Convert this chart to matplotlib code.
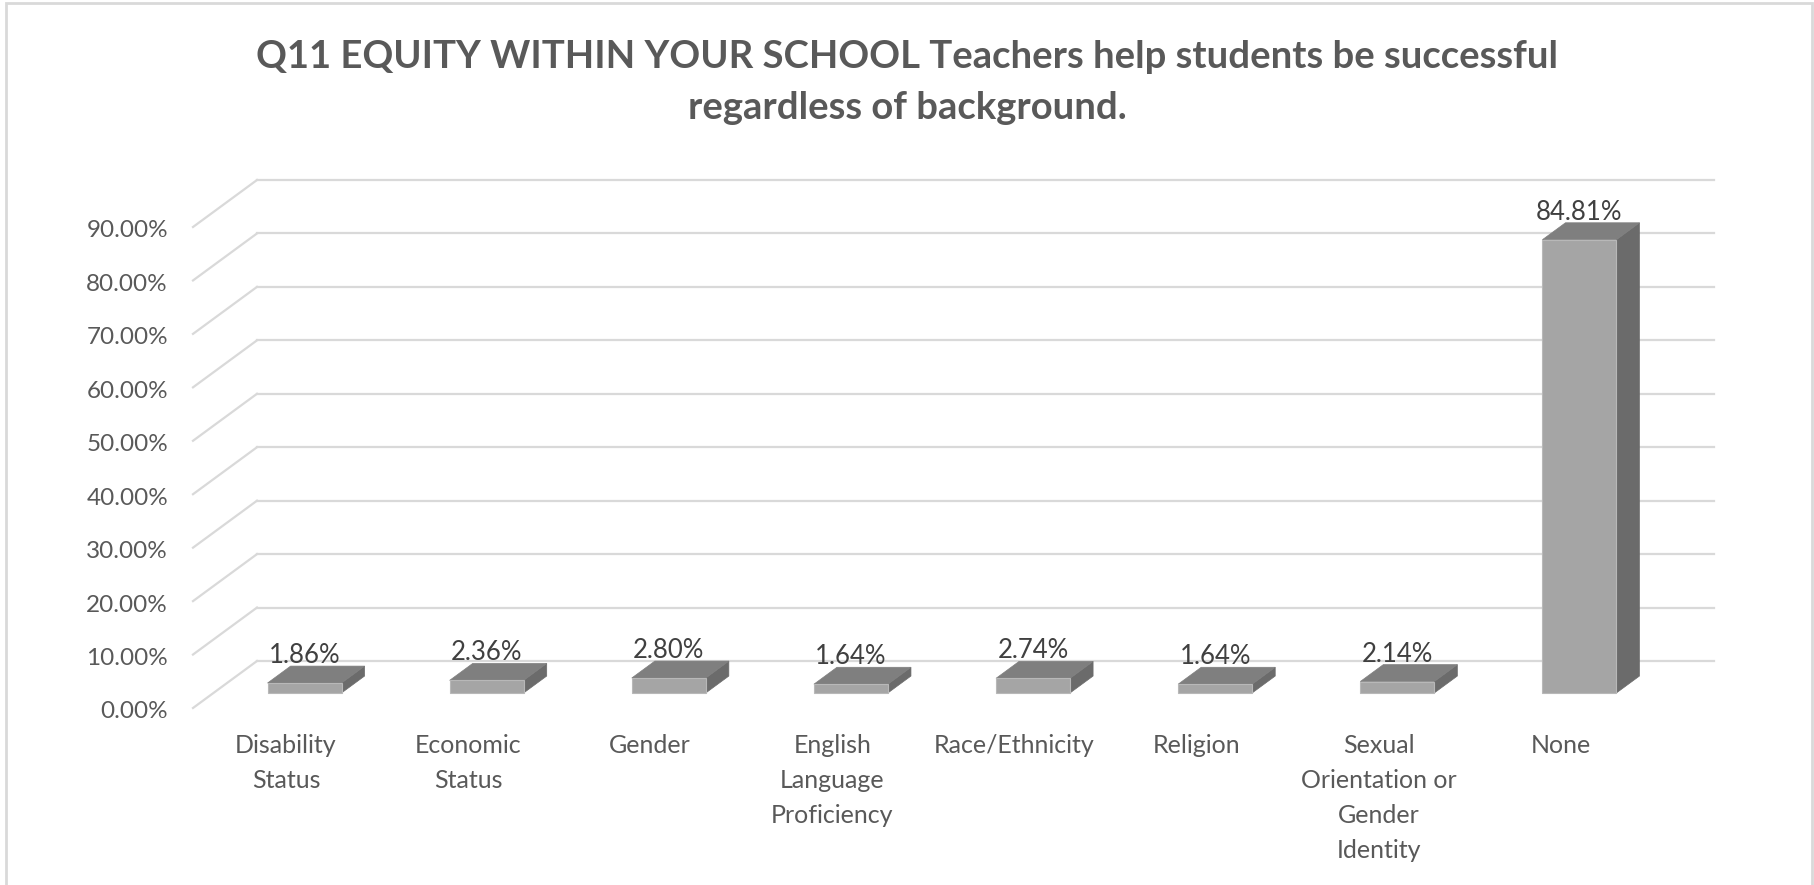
import matplotlib.pyplot as plt
from matplotlib.patches import Polygon, Rectangle

# survey results, percent of responses
categories = ["Disability\nStatus", "Economic\nStatus", "Gender",
              "English\nLanguage\nProficiency", "Race/Ethnicity", "Religion",
              "Sexual\nOrientation or\nGender\nIdentity", "None"]
values = [1.86, 2.36, 2.80, 1.64, 2.74, 1.64, 2.14, 84.81]
yticks = [0, 10, 20, 30, 40, 50, 60, 70, 80, 90]
title_lines = ["Q11 EQUITY WITHIN YOUR SCHOOL Teachers help students be successful",
               "regardless of background."]

plt.rcParams['font.family'] = ['Lato', 'DejaVu Sans']

W, H = 1815, 885
fig = plt.figure(figsize=(W / 100, H / 100), dpi=100)

# back wall of the 3-D plot, pixel positions
left, right, top, floor = 257, 1714, 180, 661
ax = fig.add_axes([left / W, (H - floor) / H, (right - left) / W, (floor - top) / H])
ax.set_xlim(-0.5, len(values) - 0.5)
ax.set_ylim(0, 90)
ax.axis('off')

# oblique depth: the full floor depth moves 64 px left and 47 px down
px_x = (right - left) / len(values)
px_y = (floor - top) / 90
DX = -64 / px_x
DY = -47 / px_y

grid_col = '#d9d9d9'
for v in yticks:
    ax.plot([-0.5, len(values) - 0.5], [v, v], color=grid_col, lw=1.6, clip_on=False, zorder=1)
    ax.plot([-0.5, -0.5 + DX], [v, v + DY], color=grid_col, lw=1.6, clip_on=False, zorder=1)
    ax.annotate(f"{v:.2f}%", xy=(-0.5 + DX, v + DY), xytext=(-25, -4),
                textcoords='offset pixels', ha='right', va='center',
                fontsize=17.5, color='#595959', annotation_clip=False)

# 3-D columns: front face, top and right side
bw = 74 / px_x
d_back, d_front = 0.32, 0.68
fx, fy = d_front * DX, d_front * DY
bx, by = d_back * DX, d_back * DY
for i, v in enumerate(values):
    xl, xr = i - bw / 2, i + bw / 2
    front = [(xl + fx, fy), (xr + fx, fy), (xr + fx, v + fy), (xl + fx, v + fy)]
    lid = [(xl + fx, v + fy), (xr + fx, v + fy), (xr + bx, v + by), (xl + bx, v + by)]
    side = [(xr + fx, fy), (xr + bx, by), (xr + bx, v + by), (xr + fx, v + fy)]
    ax.add_patch(Polygon(side, closed=True, fc='#6b6b6b', ec='#6b6b6b', lw=0.5, clip_on=False, zorder=3))
    ax.add_patch(Polygon(lid, closed=True, fc='#7f7f7f', ec='#7f7f7f', lw=0.5, clip_on=False, zorder=3))
    ax.add_patch(Polygon(front, closed=True, fc='#a5a5a5', ec='#b8b8b8', lw=0.8, clip_on=False, zorder=4))
    ax.annotate(f"{v:.2f}%", xy=(i + fx, v + by), xytext=(0, 3),
                textcoords='offset pixels', ha='center', va='baseline',
                fontsize=18.5, color='#404040', annotation_clip=False, zorder=5)

for i, cat in enumerate(categories):
    ax.annotate(cat, xy=(i + 0.97 * DX, DY), xytext=(0, -26),
                textcoords='offset pixels', ha='center', va='top',
                fontsize=18, color='#595959', linespacing=1.63,
                annotation_clip=False)

# chart title
for k, line in enumerate(title_lines):
    fig.text(907 / W, 1 - (57 + 51 * k) / H, line, ha='center', va='center',
             fontsize=27.5, fontweight='bold', color='#595959')

# light chart-area border
fig.patches.append(Rectangle((6 / W, -0.1), (1812 - 6) / W, 1.1 - 3 / H,
                             transform=fig.transFigure, fill=False,
                             ec='#d9d9d9', lw=2))

fig.savefig('out.png', dpi=100, facecolor='white')
